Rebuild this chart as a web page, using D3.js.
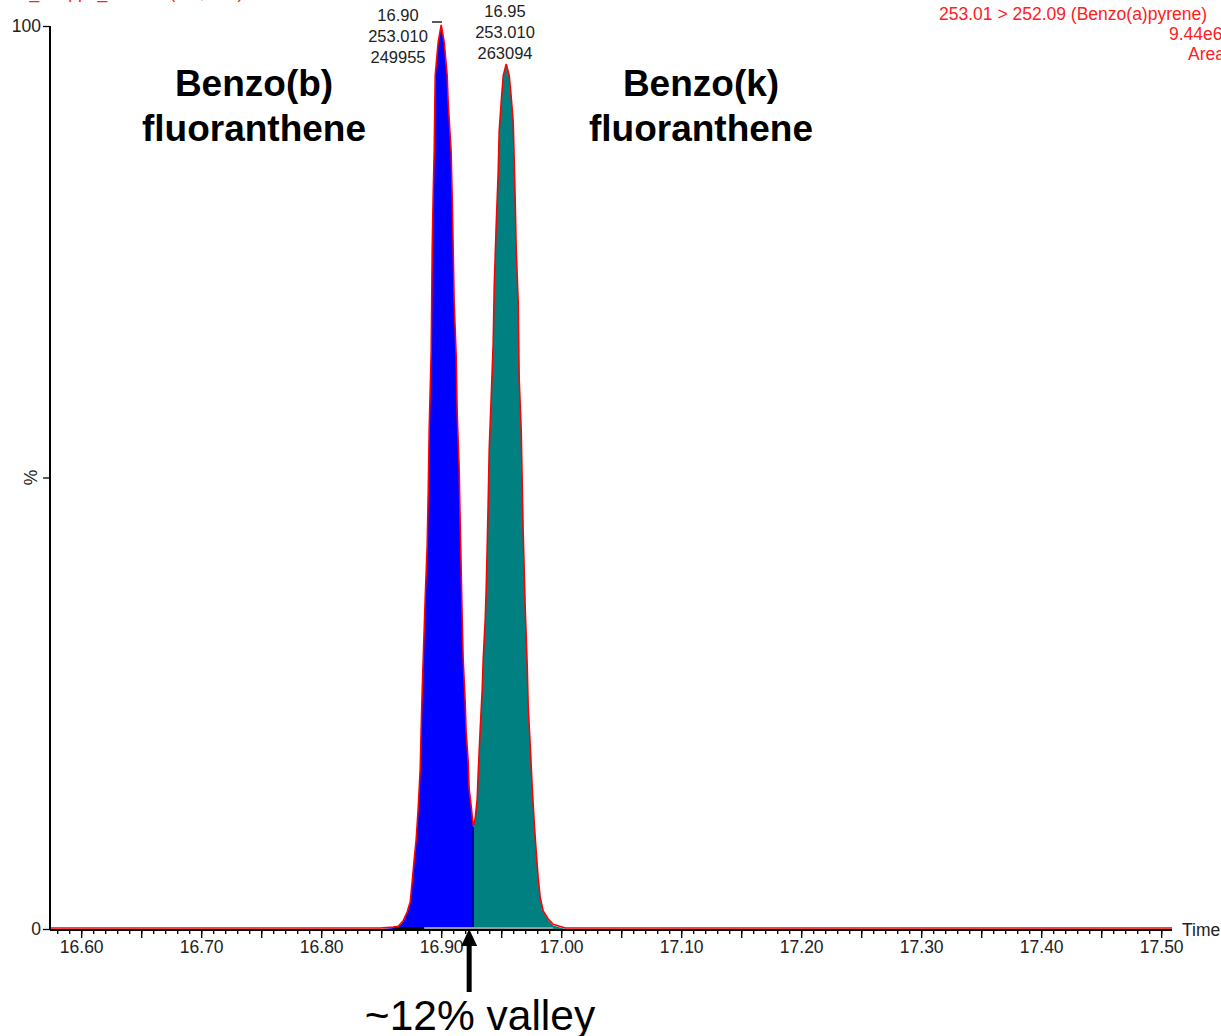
<!DOCTYPE html>
<html>
<head>
<meta charset="utf-8">
<script src="https://cdn.jsdelivr.net/npm/d3@7"></script>
<style>
  body { margin: 0; background: #fff; }
  svg { display: block; font-family: Arial, "Liberation Sans", sans-serif; }
</style>
</head>
<body>
<div id="wrapper"></div>
<script>
// chromatogram trace (time in min, intensity in %)
const times = [
  16.574, 16.8492, 16.8600, 16.8642, 16.8683, 16.8717, 16.8742, 16.8758, 16.8775, 16.8792,
  16.8808, 16.8825, 16.8833, 16.8842, 16.8858, 16.8867, 16.8883, 16.8892, 16.8900, 16.8917,
  16.8925, 16.8933, 16.8942, 16.8950, 16.8975, 16.9000, 16.9025, 16.9050, 16.9058, 16.9083,
  16.9092, 16.9100, 16.9108, 16.9125, 16.9133, 16.9150, 16.9158, 16.9167, 16.9175, 16.9183,
  16.9200, 16.9208, 16.9225, 16.9233, 16.9250, 16.9267, 16.9283, 16.9300, 16.9308, 16.9325,
  16.9342, 16.9350, 16.9367, 16.9375, 16.9383, 16.9392, 16.9400, 16.9417, 16.9433, 16.9442,
  16.9458, 16.9475, 16.9483, 16.9500, 16.9517, 16.9542, 16.9567, 16.9583, 16.9600, 16.9608,
  16.9617, 16.9625, 16.9642, 16.9650, 16.9667, 16.9675, 16.9683, 16.9700, 16.9717, 16.9725,
  16.9742, 16.9758, 16.9775, 16.9792, 16.9808, 16.9825, 16.9850, 16.9892, 16.9933, 17.0033,
  17.509
]
const intensity = [
  0, 0, 0.1, 0.2, 0.8, 1.8, 2.9, 5.1, 7.6, 9.9,
  13.2, 17.6, 22.0, 26.5, 33.0, 36.7, 42.3, 48.4, 55.3, 64.0,
  75.2, 81.1, 86.3, 94.4, 98.1, 100, 98.1, 94.4, 91.5, 85.9,
  80.7, 75.2, 69.3, 63.3, 57.1, 50.8, 45.0, 39.4, 34.2, 29.8,
  25.0, 21.7, 18.4, 15.4, 13.5, 11.3, 12.1, 14.3, 17.1, 22.0,
  26.5, 29.8, 34.2, 37.5, 42.0, 47.5, 53.0, 58.9, 64.7, 71.1,
  77.7, 83.7, 88.2, 91.5, 94.4, 95.7, 94.4, 92.1, 89.3, 85.2,
  80.4, 75.2, 69.3, 60.8, 55.0, 49.4, 44.0, 35.5, 29.0, 24.6,
  20.2, 15.7, 11.7, 8.4, 5.6, 3.4, 1.9, 1.0, 0.4, 0,
  0
]
const valleyTime = 16.9267

const peakLabels = [
  { time: 16.90, lines: ["16.90", "253.010", "249955"], x: 398, y: 21 },
  { time: 16.95, lines: ["16.95", "253.010", "263094"], x: 505, y: 17 },
]
const compoundNames = [
  { lines: ["Benzo(b)", "fluoranthene"], x: 254 },
  { lines: ["Benzo(k)", "fluoranthene"], x: 701 },
]
const xMajorTicks = d3.range(0, 10).map(i => +(16.60 + i * 0.1).toFixed(2))
const xMidTicks = d3.range(0, 9).map(i => +(16.65 + i * 0.1).toFixed(2))
const xMinorTicks = d3.range(0, 93).map(i => +(16.58 + i * 0.01).toFixed(2))
const yTicks = [0, 50, 100]
const headerLines = ["253.01 > 252.09 (Benzo(a)pyrene)", "9.44e6", "Area"]

const dataset = times.map((t, i) => ({ t, v: intensity[i] }))

// dimensions
const dimensions = { width: 1221, height: 1036 }

const wrapper = d3.select("#wrapper")
  .append("svg")
    .attr("width", dimensions.width)
    .attr("height", dimensions.height)

const xScale = d3.scaleLinear()
  .domain([16.574, 17.509])
  .range([50, 1172])

const yScale = d3.scaleLinear()
  .domain([0, 100])
  .range([929, 26])

// peak fills
const area = d3.area()
  .x(d => xScale(d.t))
  .y0(yScale(0))
  .y1(d => yScale(d.v))

const bluePart = dataset.filter(d => d.t > 16.84 && d.t <= valleyTime)
const tealPart = dataset.filter(d => d.t >= valleyTime && d.t < 17.1)

wrapper.append("path")
    .attr("d", area(bluePart))
    .attr("fill", "#0000ff")

wrapper.append("path")
    .attr("d", area(tealPart))
    .attr("fill", "#008080")

// drop line at the valley
wrapper.append("line")
    .attr("x1", xScale(valleyTime))
    .attr("x2", xScale(valleyTime))
    .attr("y1", yScale(0))
    .attr("y2", yScale(11.3))
    .attr("stroke", "#000")
    .attr("stroke-width", 1.2)

// integration baseline
wrapper.append("line")
    .attr("x1", xScale(16.86)).attr("x2", xScale(16.8858))
    .attr("y1", yScale(0) - 1).attr("y2", yScale(0) - 1)
    .attr("stroke", "#000").attr("stroke-width", 2)
wrapper.append("line")
    .attr("x1", xScale(16.8858)).attr("x2", xScale(16.9933))
    .attr("y1", yScale(0) - 1).attr("y2", yScale(0) - 1)
    .attr("stroke", "#999").attr("stroke-width", 2)

// trace
const line = d3.line()
  .x(d => xScale(d.t))
  .y(d => yScale(d.v) - 1)

wrapper.append("path")
    .attr("d", line(dataset))
    .attr("fill", "none")
    .attr("stroke", "#ff0000")
    .attr("stroke-width", 1.6)

// x axis
const xAxisY = yScale(0) + 1
const xAxis = wrapper.append("g")
    .attr("transform", `translate(0, ${xAxisY})`)

xAxis.append("g")
  .call(d3.axisBottom(xScale).tickValues(xMinorTicks).tickSize(4).tickFormat(""))
xAxis.append("g")
  .call(d3.axisBottom(xScale).tickValues(xMidTicks).tickSize(8).tickFormat(""))
xAxis.append("g")
  .call(d3.axisBottom(xScale).tickValues(xMajorTicks).tickSize(8).tickFormat(d3.format(".2f")))

xAxis.selectAll(".domain").remove()
xAxis.selectAll(".tick line").attr("stroke", "#000").attr("stroke-width", 1.3)
xAxis.selectAll(".tick text")
    .attr("font-size", 17.5)
    .attr("font-family", "Arial, 'Liberation Sans', sans-serif")
    .attr("fill", "#222")
    .attr("y", 11)

xAxis.append("line")
    .attr("x1", 50).attr("x2", 1172)
    .attr("stroke", "#000").attr("stroke-width", 2)

xAxis.append("text")
    .attr("x", 1182)
    .attr("y", 6)
    .attr("font-size", 17.5)
    .attr("fill", "#222")
    .text("Time")

// y axis
const yAxis = wrapper.append("g")
    .attr("transform", "translate(50, 0)")
    .call(d3.axisLeft(yScale).tickValues(yTicks).tickSize(7)
      .tickFormat(d => d === 50 ? "" : d))

yAxis.select(".domain").remove()
yAxis.selectAll(".tick line").attr("stroke", "#000").attr("stroke-width", 1.3)
yAxis.selectAll(".tick text")
    .attr("font-size", 17.5)
    .attr("font-family", "Arial, 'Liberation Sans', sans-serif")
    .attr("fill", "#222")
    .attr("x", -9)

yAxis.append("line")
    .attr("y1", yScale(100)).attr("y2", xAxisY)
    .attr("stroke", "#000").attr("stroke-width", 2)

yAxis.append("text")
    .attr("transform", `translate(-13, ${yScale(50)}) rotate(-90)`)
    .attr("text-anchor", "middle")
    .attr("font-size", 17.5)
    .attr("fill", "#222")
    .text("%")

// peak annotations
peakLabels.forEach(p => {
  wrapper.append("g")
    .selectAll("text")
    .data(p.lines)
    .enter().append("text")
      .attr("x", p.x)
      .attr("y", (d, i) => p.y + i * 21)
      .attr("text-anchor", "middle")
      .attr("font-size", 16.5)
      .attr("fill", "#222")
      .text(d => d)
})

wrapper.append("line")
    .attr("x1", xScale(16.8923)).attr("x2", xScale(16.9007))
    .attr("y1", 22).attr("y2", 22)
    .attr("stroke", "#000").attr("stroke-width", 1.3)

// compound names
compoundNames.forEach(c => {
  wrapper.append("g")
    .selectAll("text")
    .data(c.lines)
    .enter().append("text")
      .attr("x", c.x)
      .attr("y", (d, i) => 96 + i * 45)
      .attr("text-anchor", "middle")
      .attr("font-size", 37)
      .attr("font-weight", "bold")
      .attr("fill", "#000")
      .text(d => d)
})

// header (clipped at the top and right edge)
wrapper.append("text")
    .attr("x", 9)
    .attr("y", -2)
    .attr("font-size", 17.5)
    .attr("fill", "#ff2020")
    .text("F1_200ppb_Std Sm (Mn, 2x3)")

wrapper.append("g")
  .selectAll("text")
  .data(headerLines)
  .enter().append("text")
    .attr("x", (d, i) => i === 0 ? 939 : i === 1 ? 1169 : 1188)
    .attr("y", (d, i) => 20 + i * 20)
    .attr("font-size", 17.5)
    .attr("fill", "#ff2020")
    .text(d => d)

// valley arrow
const arrowX = xScale(16.9233)
wrapper.append("line")
    .attr("x1", arrowX).attr("x2", arrowX)
    .attr("y1", 992).attr("y2", 945)
    .attr("stroke", "#000").attr("stroke-width", 5)
wrapper.append("path")
    .attr("d", `M${arrowX - 8},${946} L${arrowX},${929} L${arrowX + 8},${946} Z`)
    .attr("fill", "#000")

wrapper.append("text")
    .attr("x", 480)
    .attr("y", 1030)
    .attr("text-anchor", "middle")
    .attr("font-size", 42.5)
    .attr("fill", "#000")
    .text("~12% valley")
</script>
</body>
</html>
